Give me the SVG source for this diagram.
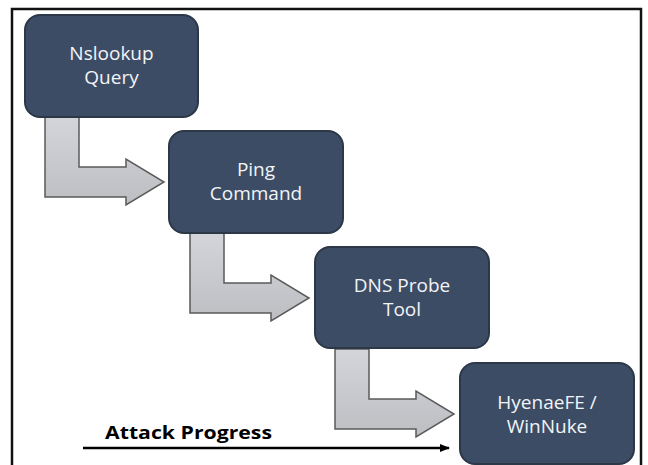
<svg xmlns="http://www.w3.org/2000/svg" width="648" height="465" viewBox="0 0 648 465">
<defs>
<linearGradient id="ag" x1="0" y1="0" x2="0" y2="1">
<stop offset="0" stop-color="#d3d5da"/>
<stop offset="1" stop-color="#bcbec2"/>
</linearGradient>
<marker id="ah" markerWidth="10" markerHeight="8" refX="9" refY="4" orient="auto" markerUnits="userSpaceOnUse">
<path d="M0,0 L10,4 L0,8 z" fill="#000"/>
</marker>
<path id="elbow" d="M0,0 L34,0 L34,50 L81,50 L81,42 L119,65 L81,88 L81,80 L0,80 z"/>
</defs>
<style>
.box{fill:#3d4c65;stroke:#2c3747;stroke-width:2}
.lbl{fill:#f2f4f7;font-family:"Open Sans","Liberation Sans",sans-serif;font-size:19px;text-anchor:middle}
.arr{fill:url(#ag);stroke:#5a5a5a;stroke-width:1.5}
</style>
<rect x="0" y="0" width="648" height="465" fill="#fff"/>
<rect x="12" y="9" width="629" height="470" fill="none" stroke="#111" stroke-width="2.5"/>
<g id="connectors">
<use href="#elbow" class="arr" x="45" y="117"/>
<use href="#elbow" class="arr" x="190" y="233"/>
<use href="#elbow" class="arr" x="335" y="349"/>
<line x1="83" y1="448" x2="449" y2="448" stroke="#000" stroke-width="2.5" marker-end="url(#ah)"/>
</g>
<g id="n1">
<rect class="box" x="25" y="15" width="173" height="102" rx="15"/>
<text class="lbl" x="111.5" y="60">Nslookup</text>
<text class="lbl" x="111.5" y="84">Query</text>
</g>
<g id="n2">
<rect class="box" x="169" y="131" width="174" height="102" rx="15"/>
<text class="lbl" x="256" y="176">Ping</text>
<text class="lbl" x="256" y="200">Command</text>
</g>
<g id="n3">
<rect class="box" x="315" y="247" width="174" height="101" rx="15"/>
<text class="lbl" x="402" y="292">DNS Probe</text>
<text class="lbl" x="402" y="316">Tool</text>
</g>
<g id="n4">
<rect class="box" x="460" y="363" width="174" height="101" rx="15"/>
<text class="lbl" x="547" y="409">HyenaeFE /</text>
<text class="lbl" x="547" y="433">WinNuke</text>
</g>
<g id="label">
<text x="105" y="439" font-family="'Open Sans','Liberation Sans',sans-serif" font-weight="bold" font-size="18" fill="#000" textLength="167" lengthAdjust="spacingAndGlyphs">Attack Progress</text>
</g>
</svg>
